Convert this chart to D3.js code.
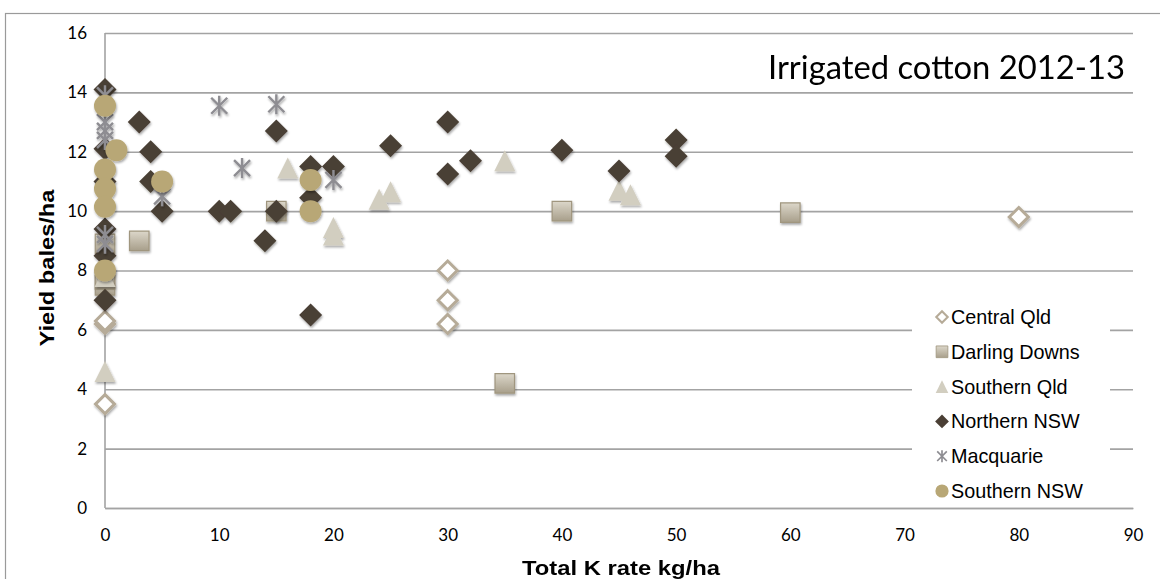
<!DOCTYPE html>
<html>
<head>
<meta charset="utf-8">
<script src="https://cdn.jsdelivr.net/npm/d3@7"></script>
<style>
  html, body { margin: 0; padding: 0; background: #fff; }
  svg { display: block; }
</style>
</head>
<body>
<svg id="chart" width="1160" height="579"></svg>
<script>
// ---- data: total K rate (kg/ha) vs yield (bales/ha) ----
const seriesNames = ["Central Qld", "Darling Downs", "Southern Qld", "Northern NSW", "Macquarie", "Southern NSW"];

const centralQld = [[0, 3.5], [0, 6.2], [0, 6.3], [30, 8], [30, 7], [30, 6.2], [80, 9.8]];
const darlingDowns = [[0, 7.5], [0, 7.7], [0, 8.9], [3, 9], [15, 10], [35, 4.2], [40, 10], [60, 9.95]];
const southernQld = [[0, 4.6], [0, 7.8], [16, 11.45], [20, 9.2], [20, 9.45], [24, 10.4], [25, 10.65], [35, 11.7], [45, 10.7], [46, 10.55]];
const northernNSW = [[0, 14.1], [0, 12.1], [0, 11], [0, 9.4], [0, 8.5], [0, 7], [3, 13], [4, 12], [4, 11], [5, 10],
  [10, 10], [11, 10], [14, 9], [15, 12.7], [15, 10], [18, 11.5], [18, 10.45], [18, 6.5], [20, 11.5],
  [25, 12.2], [30, 13], [30, 11.25], [32, 11.7], [40, 12.05], [45, 11.35], [50, 12.4], [50, 11.85]];
const macquarie = [[0, 13.9], [0, 13], [0, 12.7], [0, 12.4], [0, 9.2], [0, 8.9], [5, 10.5], [10, 13.55], [12, 11.45], [15, 13.6], [20, 11.05]];
const southernNSW = [[0, 13.55], [0, 11.4], [0, 10.75], [0, 10.15], [0, 8], [1, 12.05], [5, 11], [18, 11.05], [18, 10]];

const yTicks = [0, 2, 4, 6, 8, 10, 12, 14, 16];
const xTicks = [0, 10, 20, 30, 40, 50, 60, 70, 80, 90];

const titleText = "Irrigated cotton 2012-13";
const xTitle = "Total K rate kg/ha";
const yTitle = "Yield bales/ha";

// ---- layout ----
const svg = d3.select("#chart");
const plotLeft = 105, plotRight = 1133, plotTop = 33, plotBottom = 508;
const x = d3.scaleLinear().domain([0, 90]).range([plotLeft, plotRight]);
const y = d3.scaleLinear().domain([0, 16]).range([plotBottom, plotTop]);

const defs = svg.append("defs");
const shadow = defs.append("filter").attr("id", "shadow")
  .attr("x", "-50%").attr("y", "-50%").attr("width", "200%").attr("height", "200%");
shadow.append("feDropShadow").attr("dx", 0.8).attr("dy", 1.8)
  .attr("stdDeviation", 1.3).attr("flood-color", "#000").attr("flood-opacity", 0.35);

const sqGrad = defs.append("linearGradient").attr("id", "sqGrad")
  .attr("x1", 0).attr("y1", 0).attr("x2", 0).attr("y2", 1);
sqGrad.append("stop").attr("offset", "0%").attr("stop-color", "#dcd7ca");
sqGrad.append("stop").attr("offset", "100%").attr("stop-color", "#a89f8b");

// outer frame
svg.append("rect").attr("x", 5.5).attr("y", 13.5).attr("width", 1170).attr("height", 600)
  .attr("fill", "none").attr("stroke", "#9a9a9a").attr("stroke-width", 1.2);

// y axis with horizontal gridlines
const yAxis = svg.append("g").attr("transform", `translate(${plotLeft},0)`)
  .call(d3.axisLeft(y).tickValues(yTicks).tickSize(-(plotRight - plotLeft)).tickPadding(18).tickFormat(d3.format("d")));
yAxis.select(".domain").remove();
yAxis.selectAll(".tick line").attr("stroke", "#a3a3a3").attr("stroke-width", 1.6);
yAxis.selectAll(".tick text").attr("font-family", "Lato, 'Open Sans', sans-serif")
  .attr("font-size", 17).attr("fill", "#000");

// vertical axis line
svg.append("line").attr("x1", plotLeft).attr("x2", plotLeft).attr("y1", plotTop).attr("y2", plotBottom)
  .attr("stroke", "#a3a3a3").attr("stroke-width", 1.6);

// x axis
const xAxis = svg.append("g").attr("transform", `translate(0,${plotBottom})`)
  .call(d3.axisBottom(x).tickValues(xTicks).tickSize(0).tickPadding(21).tickFormat(d3.format("d")));
xAxis.select(".domain").attr("stroke", "#a3a3a3").attr("stroke-width", 1.6);
xAxis.selectAll(".tick text").attr("font-family", "Lato, 'Open Sans', sans-serif")
  .attr("font-size", 17).attr("fill", "#000");

// ---- marker shapes ----
function diamondPath(s) { const h = s / 2; return `M0,${-h}L${h},0L0,${h}L${-h},0Z`; }
function trianglePath(s) { const h = s / 2; return `M0,${-h}L${h},${h}L${-h},${h}Z`; }
function squarePath(s) { const h = s / 2; return `M${-h},${-h}H${h}V${h}H${-h}Z`; }
function starPath(s) {
  const h = s / 2, d = h * 0.8;
  return `M${-d},${-d}L${d},${d}M${d},${-d}L${-d},${d}M0,${-h}L0,${h}`;
}
function circlePath(s) { return d3.symbol(d3.symbolCircle, Math.PI * (s / 2) * (s / 2))(); }

const styles = {
  "Central Qld": { path: s => diamondPath(s), size: 19, fill: "#fff", stroke: "#b6ab98", sw: 3 },
  "Darling Downs": { path: s => squarePath(s), size: 19.5, fill: "url(#sqGrad)", stroke: "#a0967f", sw: 1.2 },
  "Southern Qld": { path: s => trianglePath(s), size: 21, fill: "#d2cec0", stroke: "none", sw: 0 },
  "Northern NSW": { path: s => diamondPath(s), size: 23, fill: "#4a3f35", stroke: "none", sw: 0 },
  "Macquarie": { path: s => starPath(s), size: 20, fill: "none", stroke: "#8e8d92", sw: 2.4 },
  "Southern NSW": { path: s => circlePath(s), size: 22, fill: "#b8a776", stroke: "none", sw: 0 }
};
const seriesData = [centralQld, darlingDowns, southernQld, northernNSW, macquarie, southernNSW];

const plot = svg.append("g");
seriesNames.forEach((name, i) => {
  const st = styles[name];
  plot.append("g").attr("filter", "url(#shadow)")
    .selectAll("path").data(seriesData[i]).join("path")
    .attr("transform", d => `translate(${x(d[0])},${y(d[1])})`)
    .attr("d", st.path(st.size))
    .attr("fill", st.fill).attr("stroke", st.stroke).attr("stroke-width", st.sw);
});

// ---- legend ----
const legend = svg.append("g");
legend.append("rect").attr("x", 912).attr("y", 298).attr("width", 198).attr("height", 208).attr("fill", "#fff");
const legendRowY = d3.scaleLinear().domain([0, 5]).range([317, 491]);
seriesNames.forEach((name, i) => {
  const st = styles[name];
  const g = legend.append("g").attr("transform", `translate(942,${legendRowY(i)})`);
  g.append("path").attr("d", st.path(st.size * 0.6))
    .attr("fill", st.fill).attr("stroke", st.stroke).attr("stroke-width", st.sw * 0.7);
  g.append("text").attr("x", 9).attr("y", 7).text(name)
    .attr("font-family", "'Liberation Sans', Arial, sans-serif").attr("font-size", 19.8).attr("fill", "#000");
});

// ---- titles ----
svg.append("text").attr("x", 1125).attr("y", 79).attr("text-anchor", "end")
  .attr("font-family", "Lato, 'Open Sans', sans-serif").attr("font-size", 32)
  .attr("textLength", 357).attr("lengthAdjust", "spacingAndGlyphs")
  .text(titleText);

svg.append("text").attr("x", 621).attr("y", 575).attr("text-anchor", "middle")
  .attr("font-family", "'Liberation Sans', Arial, sans-serif").attr("font-weight", "bold").attr("font-size", 21)
  .attr("textLength", 198).attr("lengthAdjust", "spacingAndGlyphs")
  .text(xTitle);

svg.append("text").attr("transform", "translate(54,268) rotate(-90)").attr("text-anchor", "middle")
  .attr("font-family", "'Liberation Sans', Arial, sans-serif").attr("font-weight", "bold").attr("font-size", 21)
  .attr("textLength", 157).attr("lengthAdjust", "spacingAndGlyphs")
  .text(yTitle);
</script>
</body>
</html>
